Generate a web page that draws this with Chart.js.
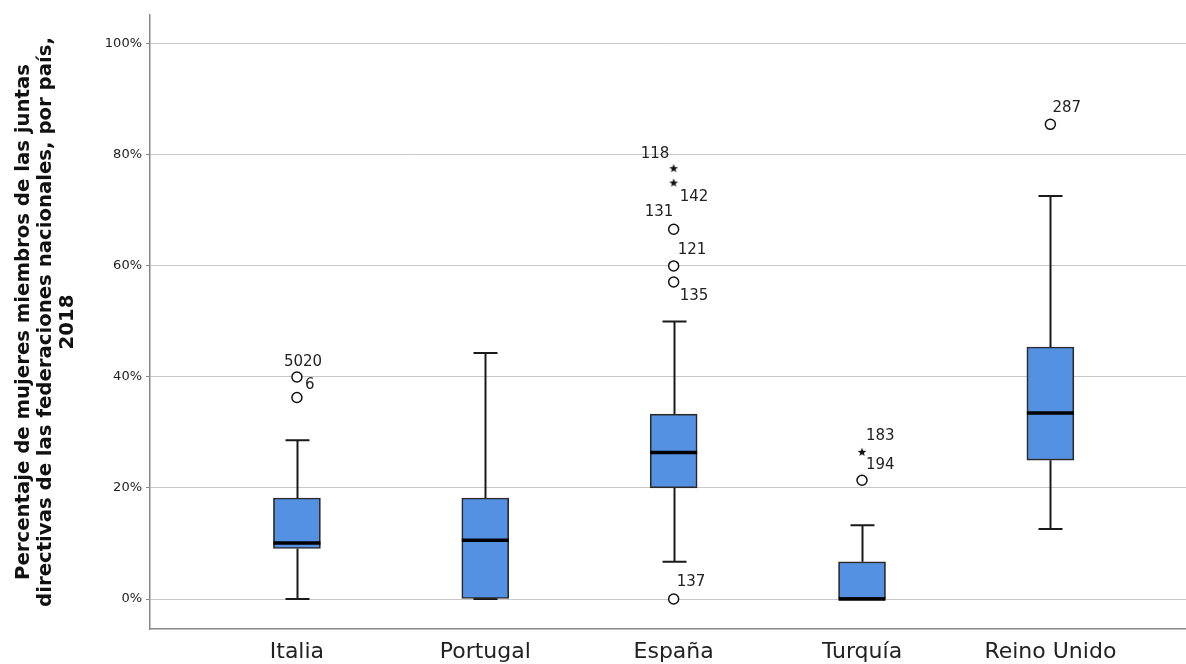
<!DOCTYPE html>
<html><head><meta charset="utf-8">
<script src="https://cdn.jsdelivr.net/npm/chart.js@4.4.1/dist/chart.umd.min.js"></script>
<style>html,body{margin:0;padding:0;background:#fff;overflow:hidden}#wrap{width:1186px;height:664px}canvas{display:block}</style>
</head><body><div id="wrap"><canvas id="c" width="1186" height="664"></canvas></div>
<script>
const categories = ['Italia', 'Portugal', 'España', 'Turquía', 'Reino Unido'];
const whiskerLow  = [0, 0, 6.7, 0, 12.6];
const q1          = [9.1, 0, 20, 0, 25];
const median      = [10.1, 10.6, 26.4, 0, 33.5];
const q3          = [18.2, 18.2, 33.3, 6.7, 45.4];
const whiskerHigh = [28.6, 44.3, 50, 13.3, 72.6];

const outlierCat   = [0, 0, 2, 2, 2, 2, 2, 2, 3, 3, 4];
const outlierValue = [40, 36.3, 77.6, 75, 66.6, 60, 57.1, 0, 26.5, 21.4, 85.5];
const outlierLabel = ['5020', '6', '118', '142', '131', '121', '135', '137', '183', '194', '287'];
const outlierKind  = ['o', 'o', '*', '*', 'o', 'o', 'o', 'o', '*', 'o', 'o'];

const yTicks = [0, 20, 40, 60, 80, 100];

// label placement (pixels relative to the point) - style only
const labelDx = [-13, 8, -33, 6, -29, 4, 6, 3, 4, 4, 2];
const labelDy = [-15, -12, -14, 14, -17, -16, 14, -17, -16, -15, -16];

function makeStar(){
  const cv = document.createElement('canvas');
  cv.width = 10; cv.height = 10;
  const g = cv.getContext('2d');
  g.fillStyle = '#111';
  g.beginPath();
  for (let i = 0; i < 10; i++) {
    const r = i % 2 === 0 ? 4.6 : 1.9;
    const a = -Math.PI / 2 + i * Math.PI / 5;
    const px = 5 + r * Math.cos(a), py = 5.4 + r * Math.sin(a);
    i === 0 ? g.moveTo(px, py) : g.lineTo(px, py);
  }
  g.closePath(); g.fill();
  return cv;
}
const star = makeStar();

const boxData = categories.map((c, i) => ({x: i + 1, y: [q1[i], q3[i]]}));
const circleData = [], starData = [];
outlierValue.forEach((v, i) => {
  const p = {x: outlierCat[i] + 1, y: v, idx: i};
  (outlierKind[i] === '*' ? starData : circleData).push(p);
});

const boxPlugin = {
  id: 'boxparts',
  beforeDatasetsDraw(chart) {
    const {ctx, scales: {x, y}} = chart;
    ctx.save();
    ctx.strokeStyle = '#1a1a1a';
    ctx.lineWidth = 2;
    const capHalf = 12;
    categories.forEach((c, i) => {
      const cx = Math.round(x.getPixelForValue(i + 1)) + 0.5;
      const yl = y.getPixelForValue(whiskerLow[i]);
      const yh = y.getPixelForValue(whiskerHigh[i]);
      const y1 = y.getPixelForValue(q1[i]);
      const y3 = y.getPixelForValue(q3[i]);
      ctx.beginPath();
      ctx.moveTo(cx, yh); ctx.lineTo(cx, y3);
      ctx.moveTo(cx, y1); ctx.lineTo(cx, yl);
      ctx.moveTo(cx - capHalf, yh); ctx.lineTo(cx + capHalf, yh);
      ctx.moveTo(cx - capHalf, yl); ctx.lineTo(cx + capHalf, yl);
      ctx.stroke();
    });
    ctx.restore();
  },
  afterDatasetsDraw(chart) {
    const {ctx, scales: {x, y}} = chart;
    ctx.save();
    ctx.strokeStyle = '#000';
    ctx.lineWidth = 3.5;
    const half = 23.5;
    categories.forEach((c, i) => {
      const cx = x.getPixelForValue(i + 1);
      const ym = y.getPixelForValue(median[i]);
      ctx.beginPath();
      ctx.moveTo(cx - half, ym); ctx.lineTo(cx + half, ym);
      ctx.stroke();
    });
    ctx.fillStyle = '#222';
    ctx.font = '15px "DejaVu Sans"';
    ctx.textAlign = 'left';
    ctx.textBaseline = 'middle';
    outlierValue.forEach((v, i) => {
      const px = x.getPixelForValue(outlierCat[i] + 1);
      const py = y.getPixelForValue(v);
      ctx.fillText(outlierLabel[i], px + labelDx[i], py + labelDy[i]);
    });
    ctx.restore();
  }
};

new Chart(document.getElementById('c'), {
  data: {
    datasets: [
      {type: 'bar', data: boxData, backgroundColor: '#5591e3', borderColor: '#2a2a2a', borderWidth: 1.7, borderSkipped: false, barThickness: 47, order: 3},
      {type: 'scatter', data: circleData, pointStyle: 'circle', pointRadius: 5, backgroundColor: '#fff', borderColor: '#111', borderWidth: 1.5, order: 1},
      {type: 'scatter', data: starData, pointStyle: star, pointRadius: 5, order: 1}
    ]
  },
  options: {
    responsive: false,
    animation: false,
    layout: {autoPadding: false, padding: {top: 15, right: 0, left: 5, bottom: 0}},
    plugins: {legend: {display: false}, tooltip: {enabled: false}},
    scales: {
      x: {
        type: 'linear', min: 0.22, max: 5.72, offset: false,
        afterBuildTicks(s) { s.ticks = categories.map((c, i) => ({value: i + 1})); },
        afterFit(s) { s.height = 35; s.paddingLeft = 0; s.paddingRight = 0; },
        ticks: {callback: (v) => categories[v - 1] || '', font: {family: 'DejaVu Sans', size: 22}, color: '#222', padding: 10, autoSkip: false, maxRotation: 0},
        grid: {display: false, drawTicks: false, offset: false},
        border: {display: true, color: '#888', width: 1.5}
      },
      y: {
        type: 'linear', min: -5.4, max: 105.2,
        afterBuildTicks(s) { s.ticks = yTicks.map(v => ({value: v})); },
        afterFit(s) { s.width = 145; },
        ticks: {callback: (v) => v + '%', font: {family: 'DejaVu Sans', size: 13}, color: '#222', padding: 4},
        grid: {color: '#c8c8c8', lineWidth: 1, tickLength: 4, tickColor: '#888'},
        border: {display: true, color: '#888', width: 1.5},
        title: {display: true, text: ['Percentaje de mujeres miembros de las juntas', 'directivas de las federaciones nacionales, por país,', '2018'], font: {family: 'DejaVu Sans', size: 19.7, weight: 'bold', lineHeight: 1.12}, color: '#111', padding: {top: 8, bottom: 0}}
      }
    }
  },
  plugins: [boxPlugin]
});
</script>
</body></html>
